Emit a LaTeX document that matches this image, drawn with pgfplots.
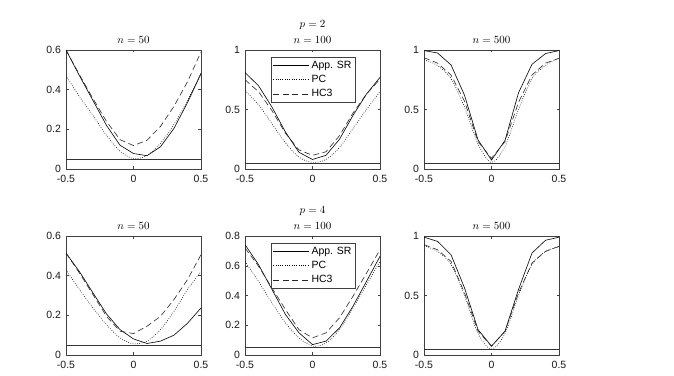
\documentclass[border=0pt]{standalone}
\usepackage[no-math]{fontspec}
\setmainfont{Liberation Sans}
\usepackage{pgfplots}
\usepackage{pgfplotstable}
\pgfplotsset{compat=1.18}

% columns: x, App. SR, PC, HC3
\pgfplotstableread{
x sr pc hc
-0.5 0.600 0.470 0.600
-0.4 0.470 0.365 0.475
-0.3 0.345 0.270 0.355
-0.2 0.220 0.170 0.240
-0.1 0.120 0.090 0.148
0.0 0.078 0.052 0.118
0.1 0.067 0.068 0.145
0.2 0.112 0.130 0.215
0.3 0.205 0.225 0.316
0.4 0.335 0.345 0.440
0.5 0.480 0.485 0.590
}\pA
\pgfplotstableread{
x sr pc hc
-0.5 0.810 0.660 0.750
-0.4 0.700 0.540 0.650
-0.3 0.520 0.380 0.490
-0.2 0.310 0.220 0.300
-0.1 0.140 0.100 0.160
0.0 0.080 0.055 0.115
0.1 0.115 0.080 0.145
0.2 0.250 0.180 0.280
0.3 0.450 0.340 0.470
0.4 0.630 0.500 0.630
0.5 0.770 0.650 0.755
}\pB
\pgfplotstableread{
x sr pc hc
-0.5 0.995 0.920 0.935
-0.4 0.975 0.870 0.890
-0.3 0.875 0.760 0.790
-0.2 0.620 0.520 0.570
-0.1 0.245 0.210 0.230
0.0 0.075 0.055 0.090
0.1 0.240 0.190 0.230
0.2 0.640 0.500 0.560
0.3 0.880 0.760 0.790
0.4 0.970 0.870 0.890
0.5 0.995 0.930 0.930
}\pC
\pgfplotstableread{
x sr pc hc
-0.5 0.514 0.430 0.514
-0.4 0.420 0.330 0.413
-0.3 0.313 0.237 0.304
-0.2 0.207 0.153 0.195
-0.1 0.128 0.086 0.120
0.0 0.081 0.056 0.108
0.1 0.058 0.070 0.145
0.2 0.070 0.128 0.195
0.3 0.100 0.220 0.280
0.4 0.160 0.330 0.380
0.5 0.237 0.420 0.506
}\pD
\pgfplotstableread{
x sr pc hc
-0.5 0.742 0.630 0.720
-0.4 0.608 0.495 0.597
-0.3 0.440 0.350 0.450
-0.2 0.272 0.216 0.305
-0.1 0.149 0.115 0.170
0.0 0.070 0.060 0.115
0.1 0.093 0.080 0.149
0.2 0.182 0.170 0.250
0.3 0.328 0.316 0.395
0.4 0.495 0.473 0.550
0.5 0.663 0.630 0.708
}\pE
\pgfplotstableread{
x sr pc hc
-0.5 0.990 0.920 0.927
-0.4 0.955 0.870 0.885
-0.3 0.843 0.760 0.787
-0.2 0.564 0.500 0.522
-0.1 0.214 0.180 0.200
0.0 0.074 0.050 0.074
0.1 0.200 0.180 0.200
0.2 0.550 0.500 0.520
0.3 0.857 0.760 0.773
0.4 0.964 0.870 0.871
0.5 0.990 0.910 0.913
}\pF

\pgfplotsset{
  panel/.style={
    scale only axis, width=135pt, height=119pt,
    anchor=north west,
    xmin=-0.5, xmax=0.5, xtick={-0.5,0,0.5},
    tick align=inside, major tick length=2.5pt,
    axis line style={black!75, line width=0.5pt},
    every tick/.style={black!75, line width=0.4pt},
    tick label style={font=\fontsize{10.5}{12}\selectfont, text=black!90},
    xticklabel style={yshift=-2.5pt},
    yticklabel style={xshift=-1.5pt},
    /pgf/number format/assume math mode=true,
    title style={font=\fontsize{11}{16}\selectfont, align=center, yshift=-3pt},
    legend cell align=left,
    legend style={font=\fontsize{10.5}{12}\selectfont, draw=black!75, line width=0.5pt,
      at={(0.19,0.945)}, anchor=north west, inner xsep=2pt, inner ysep=2pt,
      row sep=1.5pt},
    legend image code/.code={\draw[##1] (0pt,0pt) -- (36pt,0pt);},
  },
  sr/.style={black, line width=0.6pt},
  pc/.style={black, line width=0.6pt, dash pattern=on 0.7pt off 1.6pt, smooth},
  hc/.style={black!85, line width=0.6pt, dash pattern=on 6pt off 3.5pt},
  nom/.style={black!80, line width=0.6pt, forget plot},
}

\begin{document}
\begin{tikzpicture}
\useasboundingbox (0pt,0pt) rectangle (674pt,375pt);
% top row p = 2
\begin{axis}[panel, at={(66pt,325pt)}, ymin=0, ymax=0.6, ytick={0,0.2,0.4,0.6}, title={$n = 50$}]
\addplot[sr] table[x=x,y=sr]{\pA};
\addplot[pc] table[x=x,y=pc]{\pA};
\addplot[hc] table[x=x,y=hc]{\pA};
\addplot[nom] coordinates {(-0.5,0.05) (0.5,0.05)};
\end{axis}
\begin{axis}[panel, at={(245pt,325pt)}, ymin=0, ymax=1, ytick={0,0.5,1}, title={$p = 2$\\$n = 100$}]
\addplot[sr] table[x=x,y=sr]{\pB};
\addplot[pc] table[x=x,y=pc]{\pB};
\addplot[hc] table[x=x,y=hc]{\pB};
\addplot[nom] coordinates {(-0.5,0.05) (0.5,0.05)};
\legend{App. SR, PC, HC3}
\end{axis}
\begin{axis}[panel, at={(424pt,325pt)}, ymin=0, ymax=1, ytick={0,0.5,1}, title={$n = 500$}]
\addplot[sr] table[x=x,y=sr]{\pC};
\addplot[pc] table[x=x,y=pc]{\pC};
\addplot[hc] table[x=x,y=hc]{\pC};
\addplot[nom] coordinates {(-0.5,0.05) (0.5,0.05)};
\end{axis}
% bottom row p = 4
\begin{axis}[panel, at={(66pt,139pt)}, ymin=0, ymax=0.6, ytick={0,0.2,0.4,0.6}, title={$n = 50$}]
\addplot[sr] table[x=x,y=sr]{\pD};
\addplot[pc] table[x=x,y=pc]{\pD};
\addplot[hc] table[x=x,y=hc]{\pD};
\addplot[nom] coordinates {(-0.5,0.05) (0.5,0.05)};
\end{axis}
\begin{axis}[panel, at={(245pt,139pt)}, ymin=0, ymax=0.8, ytick={0,0.2,0.4,0.6,0.8}, title={$p = 4$\\$n = 100$}]
\addplot[sr] table[x=x,y=sr]{\pE};
\addplot[pc] table[x=x,y=pc]{\pE};
\addplot[hc] table[x=x,y=hc]{\pE};
\addplot[nom] coordinates {(-0.5,0.05) (0.5,0.05)};
\legend{App. SR, PC, HC3}
\end{axis}
\begin{axis}[panel, at={(424pt,139pt)}, ymin=0, ymax=1, ytick={0,0.5,1}, title={$n = 500$}]
\addplot[sr] table[x=x,y=sr]{\pF};
\addplot[pc] table[x=x,y=pc]{\pF};
\addplot[hc] table[x=x,y=hc]{\pF};
\addplot[nom] coordinates {(-0.5,0.05) (0.5,0.05)};
\end{axis}
\end{tikzpicture}
\end{document}
